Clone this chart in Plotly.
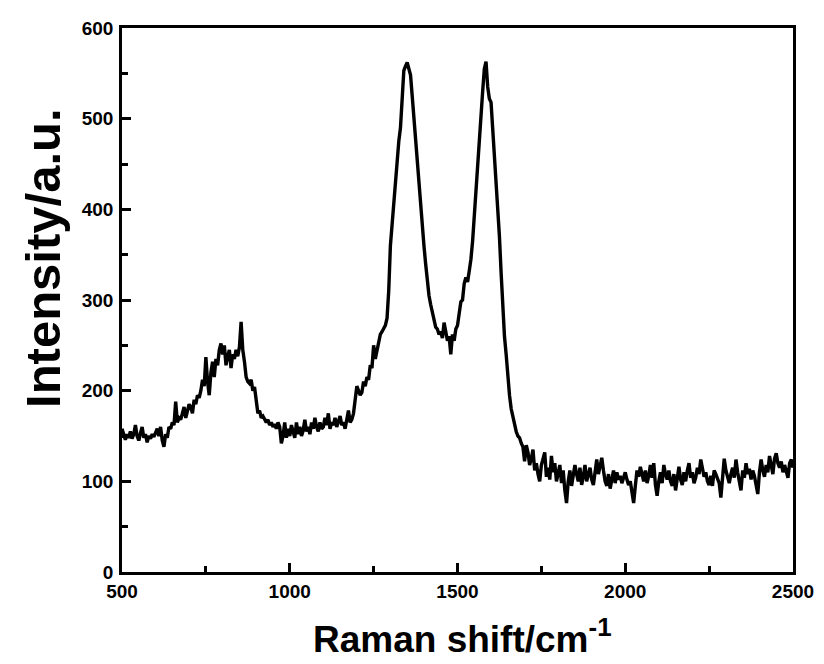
import plotly.graph_objects as go

# Raman shift sampling grid (cm^-1), 5 cm^-1 steps from 500 to 2500
raman_shift = list(range(500, 2505, 5))

# Intensity values, 20 per 100 cm^-1 block
intensity = [
    # 500-595
    158, 150, 146, 152, 148, 155, 147, 152, 162, 150, 145, 153, 160, 148, 152, 143, 150, 147, 152, 149,
    # 600-695
    155, 158, 150, 160, 145, 138, 152, 148, 160, 158, 165, 162, 188, 165, 170, 168, 175, 182, 170, 178,
    # 700-795
    185, 182, 175, 190, 185, 195, 192, 200, 212, 205, 237, 210, 195, 220, 232, 215, 235, 228, 245, 252,
    # 800-895
    240, 250, 228, 238, 245, 225, 240, 235, 245, 238, 248, 276, 245, 232, 215, 210, 208, 212, 200, 204,
    # 900-995
    185, 175, 178, 170, 172, 168, 165, 168, 162, 165, 160, 163, 158, 165, 160, 142, 150, 165, 148, 158,
    # 1000-1095
    150, 162, 155, 148, 165, 152, 160, 150, 156, 168, 155, 160, 152, 165, 158, 170, 160, 155, 165, 158,
    # 1100-1195
    160, 170, 162, 175, 158, 165, 162, 170, 160, 166, 172, 162, 165, 158, 170, 178, 165, 168, 175, 190,
    # 1200-1295
    205, 200, 195, 198, 210, 205, 215, 212, 228, 225, 250, 235, 245, 255, 262, 265, 268, 272, 280, 310,
    # 1300-1395
    360, 385, 405, 435, 460, 475, 490, 530, 553, 558, 562, 555, 548, 525, 500, 475, 450, 430, 405, 380,
    # 1400-1495
    360, 340, 320, 305, 295, 285, 278, 270, 268, 262, 265, 258, 275, 262, 255, 260, 240, 262, 255, 268,
    # 1500-1595
    272, 285, 298, 300, 318, 325, 320, 332, 345, 365, 395, 420, 450, 478, 505, 530, 555, 563, 535, 522,
    # 1600-1695
    518, 490, 455, 420, 395, 370, 330, 290, 260, 240, 215, 195, 180, 170, 163, 155, 150, 148, 142, 138,
    # 1700-1795
    122, 140, 132, 118, 125, 135, 112, 120, 108, 100, 118, 125, 132, 105, 115, 102, 128, 110, 120, 100,
    # 1800-1895
    108, 118, 98, 112, 90, 76, 100, 112, 95, 105, 118, 108, 100, 115, 96, 105, 118, 100, 110, 115,
    # 1900-1995
    102, 96, 110, 124, 108, 118, 126, 112, 100, 95, 108, 92, 105, 112, 98, 110, 102, 106, 98, 104,
    # 2000-2095
    110, 102, 96, 100, 88, 76, 95, 112, 105, 116, 108, 100, 112, 98, 106, 118, 104, 120, 96, 84,
    # 2100-2195
    100, 110, 98, 118, 108, 102, 112, 100, 95, 108, 90, 104, 116, 102, 96, 110, 100, 112, 120, 104,
    # 2200-2295
    110, 98, 104, 115, 108, 124, 112, 105, 110, 100, 96, 106, 95, 112, 108, 102, 98, 82, 110, 125,
    # 2300-2395
    112, 104, 98, 108, 115, 104, 124, 110, 100, 90, 112, 104, 120, 108, 114, 102, 112, 106, 96, 86,
    # 2400-2500
    110, 124, 112, 105, 118, 110, 128, 118, 108, 125, 131, 120, 115, 122, 110, 118, 112, 104, 120, 124, 115,
]

x_tick_values = [500, 1000, 1500, 2000, 2500]
y_tick_values = [0, 100, 200, 300, 400, 500, 600]
x_title = "Raman shift/cm<sup>-1</sup>"
y_title = "Intensity/a.u."

FONT = "Liberation Sans, Arial, sans-serif"

fig = go.Figure()
fig.add_trace(go.Scatter(
    x=raman_shift, y=intensity, mode="lines",
    line=dict(color="black", width=3.4),
    showlegend=False, hoverinfo="skip",
))

axis_common = dict(
    showgrid=False, zeroline=False, automargin=False,
    showline=True, linecolor="black", linewidth=2.5, mirror=True,
    ticks="inside", ticklen=9, tickwidth=2.5, tickcolor="black",
    tickfont=dict(family=FONT, size=19, color="black", weight="bold"),
)

fig.update_xaxes(
    range=[500, 2500], tickvals=x_tick_values,
    minor=dict(ticks="inside", ticklen=6, tickwidth=2.5, tickcolor="black", dtick=250, tick0=500),
    **axis_common,
)
fig.update_yaxes(
    range=[0, 600], tickvals=y_tick_values, ticklabelstandoff=2,
    minor=dict(ticks="inside", ticklen=6, tickwidth=2.5, tickcolor="black", dtick=50, tick0=0),
    **axis_common,
)

fig.add_annotation(
    text=x_title, xref="paper", yref="paper", x=0.507, y=-0.118,
    xanchor="center", yanchor="middle", showarrow=False,
    font=dict(family=FONT, size=37, color="black", weight="bold"),
)
fig.add_annotation(
    text=y_title, xref="paper", yref="paper", x=-0.118, y=0.577, textangle=-90,
    xanchor="center", yanchor="middle", showarrow=False, borderpad=0,
    font=dict(family=FONT, size=49, color="black", weight="bold"),
)

fig.update_layout(
    width=816, height=656,
    margin=dict(l=114, r=31, t=20, b=92),
    plot_bgcolor="white", paper_bgcolor="white",
)

fig.write_html("out.html")
